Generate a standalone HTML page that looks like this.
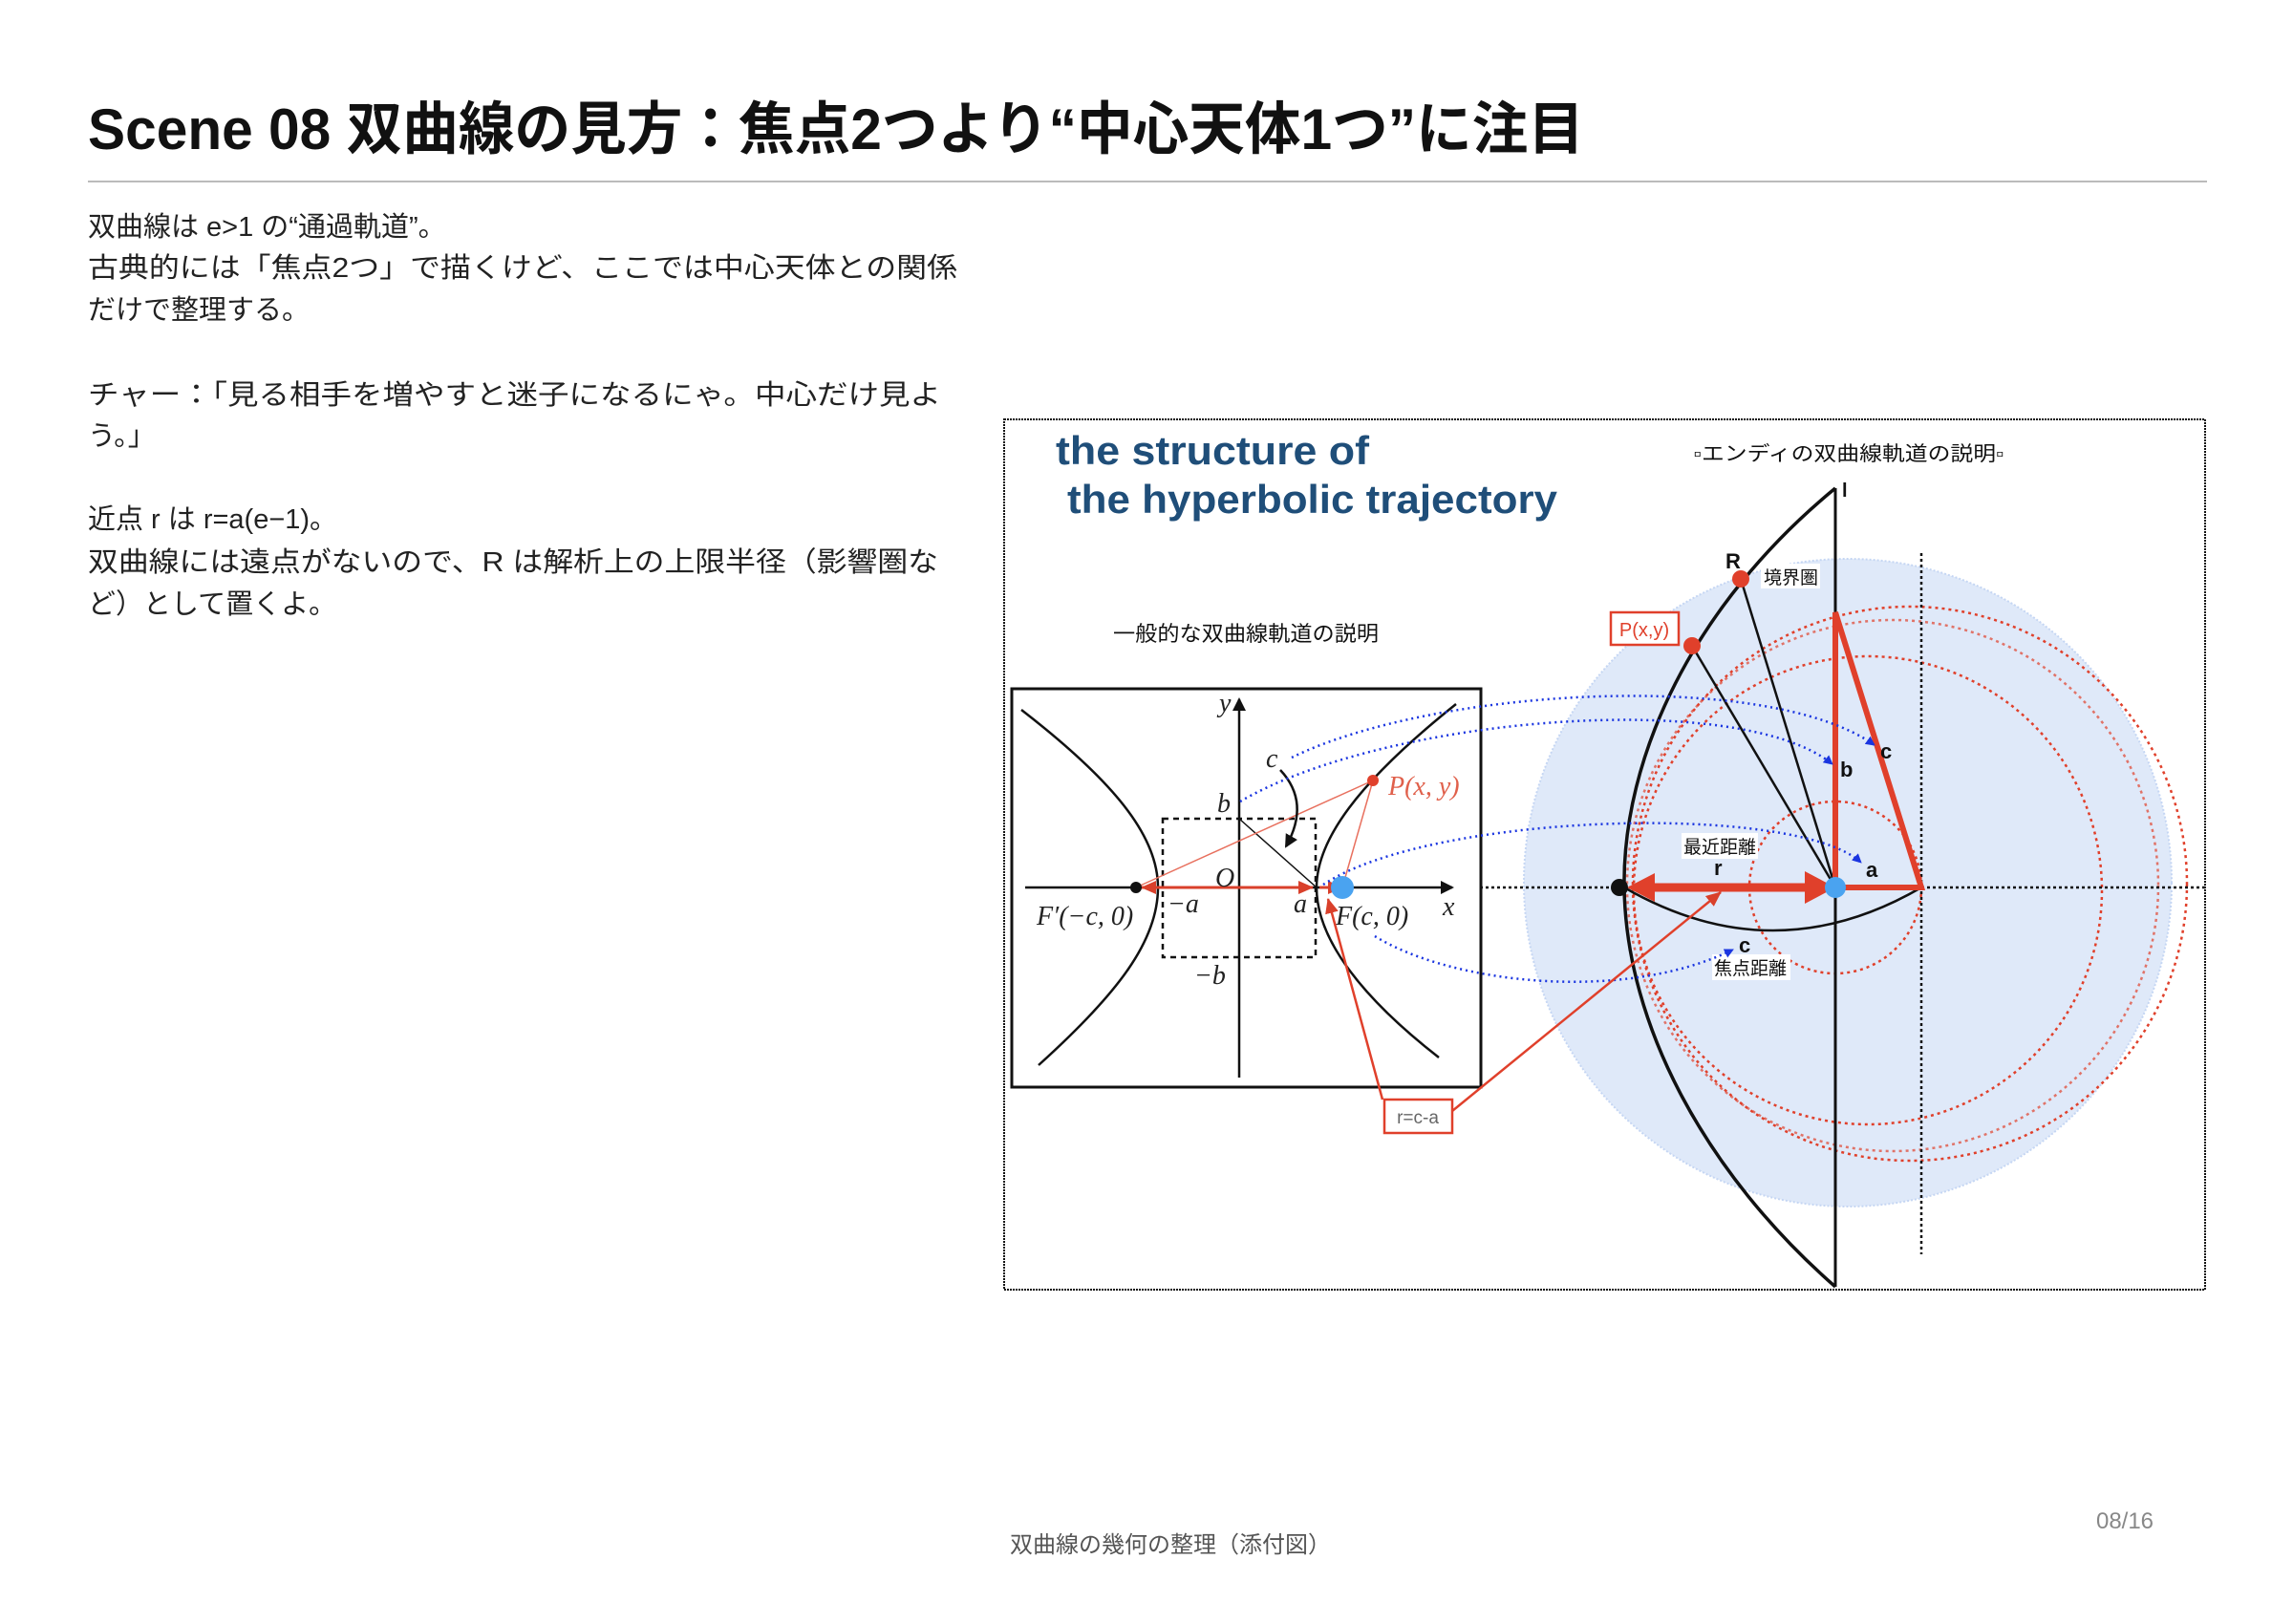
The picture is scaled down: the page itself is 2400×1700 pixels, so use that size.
<!DOCTYPE html>
<html><head><meta charset="utf-8">
<style>
html,body{margin:0;padding:0;background:#fff;}
svg{display:block;}
.jp{font-family:"Liberation Sans","Noto Sans CJK JP",sans-serif;}
.m{font-family:"Liberation Serif",serif;font-style:italic;}
</style></head>
<body>
<svg width="2400" height="1700" viewBox="0 0 2400 1700" xmlns="http://www.w3.org/2000/svg">
<defs>
<marker id="ab" markerWidth="10" markerHeight="10" refX="9" refY="5" orient="auto" markerUnits="userSpaceOnUse"><path d="M0,0 L10,5 L0,10 z" fill="#1a35e0"/></marker>
<marker id="ar" markerWidth="16" markerHeight="14" refX="15" refY="7" orient="auto-start-reverse" markerUnits="userSpaceOnUse"><path d="M0,0 L16,7 L0,14 z" fill="#d9402b"/></marker>
<marker id="ak" markerWidth="14" markerHeight="14" refX="12" refY="7" orient="auto" markerUnits="userSpaceOnUse"><path d="M0,0 L14,7 L0,14 z" fill="#111"/></marker>
</defs>

<!-- Title -->
<text x="92" y="156" class="jp" font-size="60" font-weight="bold" fill="#111" textLength="1566" lengthAdjust="spacingAndGlyphs">Scene 08  双曲線の見方：焦点2つより“中心天体1つ”に注目</text>
<line x1="92" y1="190" x2="2310" y2="190" stroke="#bbb" stroke-width="2"/>

<!-- Body -->
<g class="jp" font-size="29" fill="#222">
<text x="92" y="247">双曲線は e&gt;1 の“通過軌道”。</text>
<text x="92" y="290" textLength="910" lengthAdjust="spacingAndGlyphs">古典的には「焦点2つ」で描くけど、ここでは中心天体との関係</text>
<text x="92" y="334">だけで整理する。</text>
<text x="92" y="423" textLength="893" lengthAdjust="spacingAndGlyphs">チャー：「見る相手を増やすと迷子になるにゃ。中心だけ見よ</text>
<text x="92" y="466">う。」</text>
<text x="92" y="553">近点 r は r=a(e−1)。</text>
<text x="92" y="598" textLength="890" lengthAdjust="spacingAndGlyphs">双曲線には遠点がないので、R は解析上の上限半径（影響圏な</text>
<text x="92" y="642">ど）として置くよ。</text>
</g>

<!-- Diagram frame -->
<rect x="1051" y="439" width="1257" height="911" fill="#fff" stroke="#111" stroke-width="2" stroke-dasharray="2,1"/>

<text x="1105" y="486" font-family="Liberation Sans,sans-serif" font-size="42" font-weight="bold" fill="#1f4e79" textLength="328" lengthAdjust="spacingAndGlyphs">the structure of</text>
<text x="1117" y="537" font-family="Liberation Sans,sans-serif" font-size="42" font-weight="bold" fill="#1f4e79" textLength="513" lengthAdjust="spacingAndGlyphs">the hyperbolic trajectory</text>

<text x="1935" y="482" class="jp" font-size="21" fill="#111" text-anchor="middle" textLength="325" lengthAdjust="spacingAndGlyphs">▫エンディの双曲線軌道の説明▫</text>
<text x="1165" y="671" class="jp" font-size="22" fill="#111" textLength="278" lengthAdjust="spacingAndGlyphs">一般的な双曲線軌道の説明</text>

<!-- Right diagram -->
<g transform="translate(-4,-6)">
<circle cx="1938" cy="930" r="339" fill="#dfe9f9" stroke="#c5d6f3" stroke-width="2" stroke-dasharray="2,2"/>
<g fill="none" stroke="#e0402b" stroke-width="2.5" stroke-dasharray="3,4">
<circle cx="1925" cy="935" r="90"/>
<circle cx="1959" cy="938" r="245"/>
<circle cx="1985" cy="933" r="278" stroke-opacity="0.7"/>
<circle cx="2003" cy="931" r="290"/>
</g>
<line x1="1547" y1="935" x2="2312" y2="935" stroke="#111" stroke-width="2.5" stroke-dasharray="3,3"/>
<line x1="2015" y1="585" x2="2015" y2="1319" stroke="#111" stroke-width="2.5" stroke-dasharray="3,3"/>
<line x1="1925" y1="517" x2="1925" y2="1353" stroke="#111" stroke-width="3"/>
<text x="1932" y="526" font-family="Liberation Sans,sans-serif" font-size="20" font-weight="bold" fill="#111">l</text>
<path d="M1925,517 C1775,640 1702,800 1704,935 C1706,1080 1790,1235 1925,1353" fill="none" stroke="#111" stroke-width="3.5"/>
<path d="M1704,935 Q1860,1025 2015,935" fill="none" stroke="#111" stroke-width="2.5"/>
<line x1="1826" y1="612" x2="1925" y2="935" stroke="#111" stroke-width="2.5"/>
<line x1="1775" y1="682" x2="1925" y2="935" stroke="#111" stroke-width="2.5"/>
<path d="M1925,935 L1925,647 L2015,935 Z" fill="none" stroke="#e0402b" stroke-width="6" stroke-linejoin="miter"/>
<line x1="1730" y1="935" x2="1898" y2="935" stroke="#e0402b" stroke-width="9"/>
<path d="M1707,935 L1736,920 L1736,950 Z" fill="#e0402b"/>
<path d="M1925,935 L1893,918 L1893,952 Z" fill="#e0402b"/>
<circle cx="1925" cy="935" r="11" fill="#4aa3f0"/>
<circle cx="1699" cy="935" r="9" fill="#111"/>
<circle cx="1826" cy="612" r="9" fill="#e0402b"/>
<circle cx="1775" cy="682" r="9" fill="#e0402b"/>
<text x="1810" y="601" font-family="Liberation Sans,sans-serif" font-size="22" font-weight="bold" fill="#111">R</text>
<rect x="1847" y="596" width="62" height="26" fill="#fff"/>
<text x="1850" y="617" class="jp" font-size="19" fill="#111">境界圏</text>
<rect x="1690" y="647" width="71" height="34" fill="#fff" stroke="#e0402b" stroke-width="2.5"/>
<text x="1725" y="672" font-family="Liberation Sans,sans-serif" font-size="20" fill="#e0402b" text-anchor="middle">P(x,y)</text>
<rect x="1764" y="878" width="80" height="27" fill="#fff"/>
<text x="1766" y="899" class="jp" font-size="19" fill="#111">最近距離</text>
<text x="1798" y="922" font-family="Liberation Sans,sans-serif" font-size="22" font-weight="bold" fill="#111">r</text>
<text x="1957" y="924" font-family="Liberation Sans,sans-serif" font-size="22" font-weight="bold" fill="#111">a</text>
<text x="1930" y="819" font-family="Liberation Sans,sans-serif" font-size="22" font-weight="bold" fill="#111">b</text>
<text x="1972" y="800" font-family="Liberation Sans,sans-serif" font-size="22" font-weight="bold" fill="#111">c</text>
<text x="1824" y="1003" font-family="Liberation Sans,sans-serif" font-size="22" font-weight="bold" fill="#111">c</text>
<rect x="1796" y="1005" width="82" height="27" fill="#fff"/>
<text x="1798" y="1026" class="jp" font-size="19" fill="#111">焦点距離</text>
</g>

<!-- Left diagram box -->
<rect x="1059" y="721" width="491" height="417" fill="#fff" stroke="#111" stroke-width="3"/>
<line x1="1073" y1="929" x2="1520" y2="929" stroke="#111" stroke-width="2.5" marker-end="url(#ak)"/>
<line x1="1297" y1="1128" x2="1297" y2="732" stroke="#111" stroke-width="2.5" marker-end="url(#ak)"/>
<rect x="1217" y="857" width="160" height="145" fill="none" stroke="#111" stroke-width="2.5" stroke-dasharray="6,5"/>
<path d="M1069,743 C1175,825 1212,880 1212,929 C1212,985 1170,1040 1087,1115" fill="none" stroke="#111" stroke-width="2.5"/>
<path d="M1524,737 C1420,820 1378,880 1378,929 C1378,980 1420,1040 1506,1107" fill="none" stroke="#111" stroke-width="2.5"/>
<line x1="1297" y1="857" x2="1378" y2="929" stroke="#111" stroke-width="1.5"/>
<line x1="1189" y1="929" x2="1437" y2="817" stroke="#e8705e" stroke-width="1.5"/>
<line x1="1437" y1="817" x2="1405" y2="929" stroke="#e8705e" stroke-width="1.5"/>
<line x1="1195" y1="929" x2="1374" y2="929" stroke="#d9402b" stroke-width="3" marker-start="url(#ar)" marker-end="url(#ar)"/>
<line x1="1381" y1="929" x2="1405" y2="929" stroke="#d9402b" stroke-width="3" marker-end="url(#ar)"/>
<path d="M1340,806 Q1372,840 1346,886" fill="none" stroke="#111" stroke-width="2.5" marker-end="url(#ak)"/>
<circle cx="1189" cy="929" r="6" fill="#111"/>
<circle cx="1405" cy="929" r="12" fill="#4aa3f0"/>
<circle cx="1437" cy="817" r="6" fill="#e0402b"/>
<g class="m" font-size="28" fill="#222">
<text x="1276" y="745">y</text>
<text x="1325" y="803">c</text>
<text x="1274" y="850">b</text>
<text x="1272" y="928">O</text>
<text x="1222" y="955">−a</text>
<text x="1354" y="955">a</text>
<text x="1085" y="968">F′(−c, 0)</text>
<text x="1398" y="968">F(c, 0)</text>
<text x="1510" y="958">x</text>
<text x="1250" y="1030">−b</text>
<text x="1453" y="832" fill="#e0604b">P(x, y)</text>
</g>

<!-- Blue dotted arrows -->
<g fill="none" stroke="#1a35e0" stroke-width="2.5" stroke-dasharray="2,4">
<path d="M1352,793 C1500,720 1850,700 1962,780" marker-end="url(#ab)"/>
<path d="M1298,839 C1450,750 1820,720 1918,800" marker-end="url(#ab)"/>
<path d="M1385,926 C1500,850 1880,840 1948,903" marker-end="url(#ab)"/>
<path d="M1439,980 C1520,1030 1700,1050 1814,994" marker-end="url(#ab)"/>
</g>

<!-- r=c-a -->
<line x1="1447" y1="1151" x2="1390" y2="941" stroke="#e0402b" stroke-width="2.5" marker-end="url(#ar)"/>
<line x1="1520" y1="1163" x2="1801" y2="934" stroke="#e0402b" stroke-width="2.5" marker-end="url(#ar)"/>
<rect x="1449" y="1151" width="71" height="35" fill="#fff" stroke="#e0402b" stroke-width="2.5"/>
<text x="1484" y="1176" font-family="Liberation Sans,sans-serif" font-size="19" fill="#666" text-anchor="middle">r=c-a</text>

<!-- Footer -->
<text x="1225" y="1625" class="jp" font-size="24" fill="#555" text-anchor="middle">双曲線の幾何の整理（添付図）</text>
<text x="2224" y="1600" font-family="Liberation Sans,sans-serif" font-size="24" fill="#888" text-anchor="middle">08/16</text>
</svg>
</body></html>
